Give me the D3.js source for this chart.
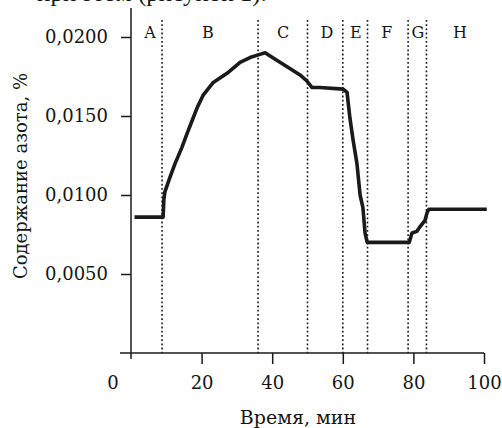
<!DOCTYPE html>
<html>
<head>
<meta charset="utf-8">
<script src="https://cdn.jsdelivr.net/npm/d3@7"></script>
<style>
  html, body { margin: 0; padding: 0; background: #fff; }
  svg { display: block; }
  text { font-family: "DejaVu Serif", "Liberation Serif", serif; fill: #151515; }
</style>
</head>
<body>
<svg id="chart" width="502" height="428"></svg>
<script>
// ---- data ----
const timeMin = [1, 9.1, 9.3, 9.6, 11.0, 12.5, 14.4, 15.9, 17.3, 18.7, 20.4, 23.2, 27.2, 30.9, 33.7, 36.5, 38.0, 39.4, 42.2, 45.0, 47.9, 49.9, 51.3, 53.5, 60.1, 61.2, 62.0, 62.9, 64.0, 64.9, 65.7, 66.3, 66.9, 78.8, 79.6, 81.0, 81.9, 83.3, 83.9, 84.4, 100.8];
const nitrogen = [0.0086, 0.0086, 0.0097, 0.0102, 0.0111, 0.0120, 0.0130, 0.0139, 0.0147, 0.0155, 0.0163, 0.0171, 0.0177, 0.0184, 0.0187, 0.0189, 0.0190, 0.0188, 0.0184, 0.0180, 0.0176, 0.0172, 0.0168, 0.0168, 0.0167, 0.0165, 0.0149, 0.0135, 0.0120, 0.0100, 0.0092, 0.0076, 0.0070, 0.0070, 0.0076, 0.0077, 0.0080, 0.0084, 0.0089, 0.0091, 0.0091];
const boundaries = [8.8, 36.0, 50.0, 60.0, 67.0, 78.5, 83.7];
const regionLabels = ["A", "B", "C", "D", "E", "F", "G", "H"];
const regionLabelPos = [5.4, 21.8, 43.1, 55.5, 63.7, 72.5, 81.3, 93.2];
const xTicks = [20, 40, 60, 80, 100];
const yTicks = [0.005, 0.010, 0.015, 0.020];
const xTitle = "Время, мин";
const yTitle = "Содержание азота, %";
const topFragment = "при этом (рисунок 1).";

// ---- drawing ----
const svg = d3.select("#chart");
const x = d3.scaleLinear().domain([0, 100]).range([131, 484]);
const y = d3.scaleLinear().domain([0, 0.02]).range([353, 37]);
const ink = "#1a1a1a";
const loc = d3.formatLocale({decimal: ",", thousands: " ", grouping: [3], currency: ["", ""]});
const yFmt = loc.format(".4f");

// cropped line of body text at the very top (cut off in the reference too)
svg.append("text").attr("x", 37).attr("y", 1)
  .style("font-family", "'Liberation Serif', serif")
  .attr("font-size", 25).text(topFragment);

// dotted region boundaries
svg.append("g").selectAll("line").data(boundaries).join("line")
  .attr("x1", d => x(d)).attr("x2", d => x(d))
  .attr("y1", 20).attr("y2", y(0))
  .attr("stroke", ink).attr("stroke-width", 1.6)
  .attr("stroke-dasharray", "1.8,2.4");

// region letters
svg.append("g").selectAll("text").data(regionLabels).join("text")
  .attr("x", (d, i) => x(regionLabelPos[i])).attr("y", 38)
  .attr("text-anchor", "middle").attr("font-size", 16).text(d => d);

// y axis
const yAxis = svg.append("g").attr("transform", `translate(${x(0)},0)`)
  .call(d3.axisLeft(y).tickValues(yTicks).tickSize(10).tickPadding(13).tickFormat(yFmt));
yAxis.select(".domain").remove();
yAxis.selectAll(".tick line").attr("stroke", ink).attr("stroke-width", 1.5);
yAxis.selectAll(".tick text").attr("font-size", 18)
  .style("font-family", "'DejaVu Serif', serif").attr("fill", "#151515");
svg.append("line").attr("x1", x(0)).attr("x2", x(0)).attr("y1", 8).attr("y2", 359)
  .attr("stroke", ink).attr("stroke-width", 1.5);

// x axis
const xAxis = svg.append("g").attr("transform", `translate(0,${y(0)})`)
  .call(d3.axisBottom(x).tickValues(xTicks).tickSize(11).tickPadding(12));
xAxis.select(".domain").remove();
xAxis.selectAll(".tick line").attr("stroke", ink).attr("stroke-width", 1.5);
xAxis.selectAll(".tick text").attr("font-size", 18)
  .style("font-family", "'DejaVu Serif', serif").attr("fill", "#151515");
svg.append("line").attr("x1", 120).attr("x2", x(100)).attr("y1", y(0)).attr("y2", y(0))
  .attr("stroke", ink).attr("stroke-width", 1.5);
// origin label
svg.append("text").attr("x", 113).attr("y", y(0) + 11 + 12).attr("dy", "0.71em")
  .attr("text-anchor", "middle").attr("font-size", 18).text("0");

// axis titles
svg.append("text").attr("x", 298).attr("y", 424).attr("text-anchor", "middle")
  .attr("font-size", 19).text(xTitle);
svg.append("text").attr("transform", "translate(27,176) rotate(-90)")
  .attr("text-anchor", "middle").attr("font-size", 18).text(yTitle);

// data line
const pts = timeMin.map((t, i) => [t, nitrogen[i]]);
svg.append("path").datum(pts)
  .attr("d", d3.line().x(d => x(d[0])).y(d => y(d[1])))
  .attr("fill", "none").attr("stroke", ink).attr("stroke-width", 3.6)
  .attr("stroke-linejoin", "round").attr("stroke-linecap", "butt");
</script>
</body>
</html>
